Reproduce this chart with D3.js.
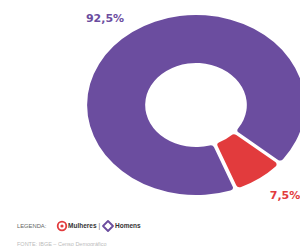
<!DOCTYPE html>
<html><head><meta charset="utf-8">
<script src="https://cdn.jsdelivr.net/npm/d3@7"></script>
<style>html,body{margin:0;padding:0;background:#fff;overflow:hidden}</style>
</head><body>
<script>
const categories = ["Mulheres", "Homens"];
const values = [7.5, 92.5];
const labels = ["7,5%", "92,5%"];
const colors = ["#e23b3d", "#6b4d9f"];

const W = 300, H = 246;
const svg = d3.select("body").append("svg").attr("width", W).attr("height", H);

const cx = 196, cy = 105, sx = 1.21;
const outerR = 90, innerR = 42;

const pie = d3.pie().sort(null).value(d => d)
  .startAngle(130 * Math.PI / 180).endAngle(130 * Math.PI / 180 + 2 * Math.PI)
  .padAngle(0.032);
const arc = d3.arc().innerRadius(innerR).outerRadius(outerR).cornerRadius(3);

const g = svg.append("g").attr("transform", `translate(${cx},${cy}) scale(${sx},1)`);
g.selectAll("path").data(pie(values)).join("path")
  .attr("d", arc).attr("fill", (d, i) => colors[i]);

// value labels
svg.append("text").attr("x", 105).attr("y", 22).attr("text-anchor", "middle")
  .attr("font-family", "DejaVu Sans").attr("font-weight", "bold").attr("font-size", 11)
  .attr("fill", colors[1]).text(labels[1]);
svg.append("text").attr("x", 285).attr("y", 199).attr("text-anchor", "middle")
  .attr("font-family", "DejaVu Sans").attr("font-weight", "bold").attr("font-size", 11)
  .attr("fill", colors[0]).text(labels[0]);

// legend
const ly = 226;
const lg = svg.append("g").attr("font-family", "Liberation Sans, Arial, sans-serif");
lg.append("text").attr("x", 17).attr("y", ly + 2).attr("font-size", 5.8).attr("fill", "#666").text("LEGENDA:");
// Mulheres icon
lg.append("circle").attr("cx", 62).attr("cy", ly).attr("r", 4.3).attr("fill", "none").attr("stroke", colors[0]).attr("stroke-width", 1.8);
lg.append("circle").attr("cx", 62).attr("cy", ly).attr("r", 1.6).attr("fill", colors[0]);
lg.append("text").attr("x", 68).attr("y", ly + 2.3).attr("font-size", 6.5).attr("font-weight", "bold").attr("fill", "#333").text(categories[0]);
lg.append("text").attr("x", 98.5).attr("y", ly + 2.3).attr("font-size", 6.5).attr("fill", "#666").text("|");
// Homens icon
const hx = 108;
lg.append("path").attr("d", `M${hx},${ly-5} L${hx+5},${ly} L${hx},${ly+5} L${hx-5},${ly} Z`)
  .attr("fill", "none").attr("stroke", colors[1]).attr("stroke-width", 1.8).attr("stroke-linejoin", "round");
lg.append("text").attr("x", 115).attr("y", ly + 2.3).attr("font-size", 6.5).attr("font-weight", "bold").attr("fill", "#333").text(categories[1]);

// source line (partially cut off)
svg.append("text").attr("x", 17).attr("y", 246).attr("font-family", "Liberation Sans, Arial, sans-serif").attr("font-size", 5.5)
  .attr("fill", "#bbb").text("FONTE: IBGE – Censo Demográfico");
</script>
</body></html>
